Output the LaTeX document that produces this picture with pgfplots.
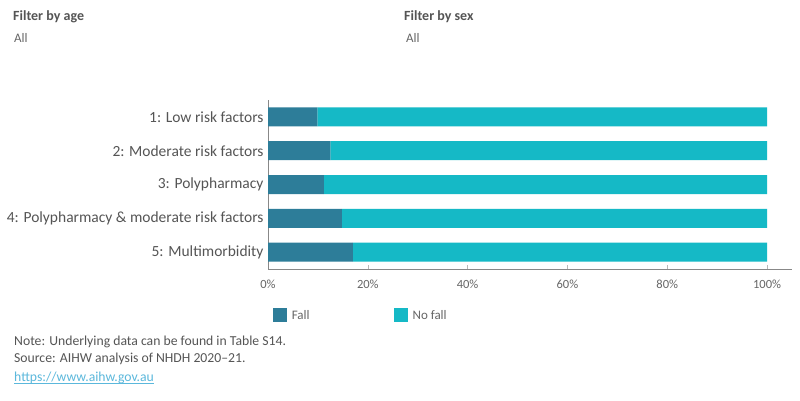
\documentclass[border=0pt]{standalone}
\usepackage{pgfplots}
\pgfplotsset{compat=1.18}
\usepackage{fontspec}
\setmainfont{Carlito}
\definecolor{fallc}{HTML}{2D7D99}
\definecolor{nofallc}{HTML}{15B9C6}
\definecolor{txt}{HTML}{555555}
\definecolor{tick}{HTML}{666666}
\definecolor{axl}{HTML}{888888}
\definecolor{link}{HTML}{5BB8DC}
\begin{document}
\begin{tikzpicture}[x=1pt,y=1pt]
\path[fill=white,use as bounding box] (0,0) rectangle (800,-400);
% filter headers
\node[anchor=base west,inner sep=0,text=txt,font=\fontsize{14}{16}\selectfont\bfseries] at (13,-20) {Filter by age};
\node[anchor=base west,inner sep=0,text=tick,font=\fontsize{13}{15}\selectfont] at (14,-42) {All};
\node[anchor=base west,inner sep=0,text=txt,font=\fontsize{14}{16}\selectfont\bfseries] at (404,-20) {Filter by sex};
\node[anchor=base west,inner sep=0,text=tick,font=\fontsize{13}{15}\selectfont] at (406,-42) {All};
\begin{axis}[
  at={(268pt,-269pt)}, anchor=south west,
  scale only axis, width=524pt, height=169pt,
  xbar stacked, bar width=19pt,
  y dir=reverse, ymin=0.5, ymax=5.5,
  xmin=0, xmax=105,
  axis x line*=bottom, axis y line*=left,
  axis line style={-, draw=axl, line width=0.9pt},
  ytick={1,2,3,4,5},
  yticklabels={1: Low risk factors,2: Moderate risk factors,3: Polypharmacy,4: Polypharmacy \& moderate risk factors,5: Multimorbidity},
  y tick style={draw=none},
  yticklabel style={text=txt,font=\fontsize{15.5}{17}\selectfont,xshift=-1pt},
  xtick={0,20,40,60,80,100},
  xticklabel={\pgfmathprintnumber{\tick}\%},
  xticklabel style={text=tick,font=\fontsize{12.5}{14}\selectfont,yshift=-7pt},
  x tick style={draw=axl!60, line width=0.5pt},
  tick align=inside, major tick length=4pt,
  /pgf/number format/assume math mode=true,
  legend style={at={(0.004,-0.215)}, anchor=north west, draw=none, fill=none,
    legend columns=2, font=\fontsize{13}{15}\selectfont, text=tick,
    nodes={inner sep=2.5pt},
    /tikz/every even column/.append style={column sep=82pt}},
  legend cell align=left,
  legend image code/.code={\fill[#1,draw=none] (0pt,-7pt) rectangle (14pt,7pt);},
]
\addplot[fill=fallc,draw=none] coordinates {(9.9,1) (12.5,2) (11.2,3) (14.8,4) (17.0,5)};
\addplot[fill=nofallc,draw=none] coordinates {(90.1,1) (87.5,2) (88.8,3) (85.2,4) (83.0,5)};
\legend{\hspace{2pt}Fall,\hspace{2pt}No fall}
\end{axis}
% footer
\node[anchor=base west,inner sep=0,text=txt,font=\fontsize{13.7}{15}\selectfont] at (14,-345) {Note: Underlying data can be found in Table S14.};
\node[anchor=base west,inner sep=0,text=txt,font=\fontsize{13.7}{15}\selectfont] at (14,-362) {Source: AIHW analysis of NHDH 2020--21.};
\node[anchor=base west,inner sep=0,text=link,font=\fontsize{13.7}{15}\selectfont] (lk) at (14,-381) {https://www.aihw.gov.au};
\draw[link,line width=0.6pt] (14,-383.5) -- (lk.base east |- 0,-383.5);
\end{tikzpicture}
\end{document}
